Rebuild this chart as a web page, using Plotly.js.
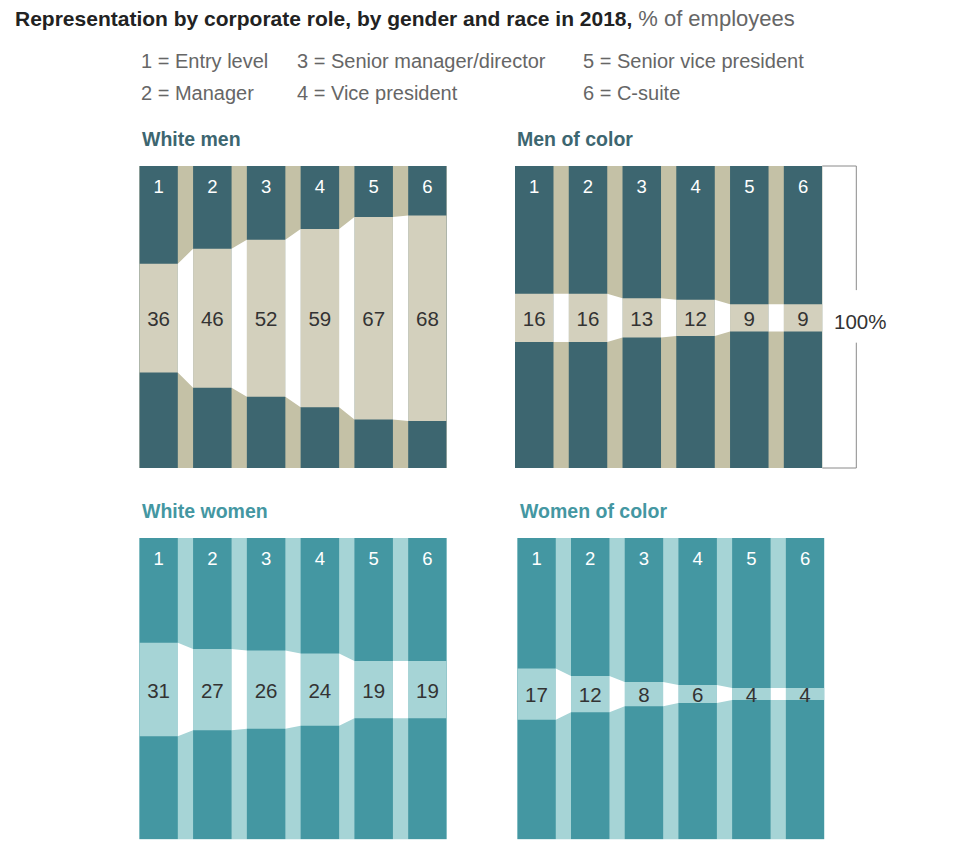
<!DOCTYPE html>
<html>
<head>
<meta charset="utf-8">
<script src="https://cdn.plot.ly/plotly-3.0.1.min.js"></script>
<style>html,body{margin:0;padding:0;background:#fff;}#chart{width:960px;height:855px;}</style>
</head>
<body>
<div id="chart"></div>
<script>
// ---- data ----
const roleLabels = ['1', '2', '3', '4', '5', '6'];
const legendItems = ['1 = Entry level', '2 = Manager', '3 = Senior manager/director', '4 = Vice president', '5 = Senior vice president', '6 = C-suite'];
const panelTitles = ['White men', 'Men of color', 'White women', 'Women of color'];
const whiteMen = [36, 46, 52, 59, 67, 68];
const menOfColor = [16, 16, 13, 12, 9, 9];
const whiteWomen = [31, 27, 26, 24, 19, 19];
const womenOfColor = [17, 12, 8, 6, 4, 4];
const bandMid = [49.6, 49.7, 49.7, 48.2]; // vertical centre of each panel's band, % of panel height

// ---- styles ----
const FONT = 'Liberation Sans, Arial, Helvetica, sans-serif';
const BARW = 0.716;
const menStyle = {dark: '#3D6670', band: '#D3D0BD', gap: '#C4C1A6', title: '#3D6670'};
const womenStyle = {dark: '#4497A2', band: '#A6D4D6', gap: '#A6D4D6', title: '#4497A2'};
const series = [whiteMen, menOfColor, whiteWomen, womenOfColor];
const styles = [menStyle, menStyle, womenStyle, womenStyle];

const W = 960, H = 855;
const px = v => v / W;
const py = v => 1 - v / H;
const panelBoxes = [
  {x0: 139.3, x1: 446.7, y0: 166, y1: 468},
  {x0: 515.0, x1: 822.3, y0: 166, y1: 468},
  {x0: 139.3, x1: 446.7, y0: 538, y1: 839.3},
  {x0: 517.3, x1: 824.3, y0: 538, y1: 839.3}
];

const traces = [];
const layout = {
  width: W, height: H,
  margin: {l: 0, r: 0, t: 0, b: 0},
  paper_bgcolor: '#fff', plot_bgcolor: 'rgba(0,0,0,0)',
  showlegend: false, barmode: 'overlay',
  font: {family: FONT},
  shapes: [], annotations: []
};

const idx = roleLabels.map((_, i) => i);

series.forEach((vals, p) => {
  const n = p === 0 ? '' : String(p + 1);
  const xa = 'x' + n, ya = 'y' + n;
  const st = styles[p], mid = bandMid[p], box = panelBoxes[p];
  layout['xaxis' + n] = {domain: [px(box.x0), px(box.x1)], range: [-BARW / 2, roleLabels.length - 1 + BARW / 2],
    visible: false, fixedrange: true, anchor: ya};
  layout['yaxis' + n] = {domain: [py(box.y1), py(box.y0)], range: [0, 100], visible: false, fixedrange: true, anchor: xa};

  // panel background (gap colour)
  layout.shapes.push({type: 'rect', xref: xa + ' domain', yref: ya + ' domain', x0: 0, x1: 1, y0: 0, y1: 1,
    fillcolor: st.gap, line: {width: 0}, layer: 'below'});

  // full-height dark columns
  traces.push({type: 'bar', xaxis: xa, yaxis: ya, x: idx, y: idx.map(() => 100), base: 0, width: BARW,
    marker: {color: st.dark, line: {width: 0}}, hoverinfo: 'skip'});
  // share band
  traces.push({type: 'bar', xaxis: xa, yaxis: ya, x: idx, y: vals, base: vals.map(v => mid - v / 2), width: BARW,
    marker: {color: st.band, line: {width: 0}}, hoverinfo: 'skip'});

  // white connectors between bands
  const cx = [], cy = [];
  for (let i = 0; i < vals.length - 1; i++) {
    cx.push(i + BARW / 2, i + 1 - BARW / 2, i + 1 - BARW / 2, i + BARW / 2, null);
    cy.push(mid + vals[i] / 2, mid + vals[i + 1] / 2, mid - vals[i + 1] / 2, mid - vals[i] / 2, null);
  }
  traces.push({type: 'scatter', xaxis: xa, yaxis: ya, x: cx, y: cy, mode: 'lines', fill: 'toself',
    fillcolor: '#ffffff', line: {width: 0, color: '#ffffff'}, hoverinfo: 'skip', connectgaps: false});

  // role numbers
  traces.push({type: 'scatter', xaxis: xa, yaxis: ya, x: idx, y: idx.map(() => 92.6), mode: 'text',
    text: roleLabels, textposition: 'middle center', textfont: {family: FONT, size: 18.5, color: '#ffffff'}, hoverinfo: 'skip'});
  // values
  traces.push({type: 'scatter', xaxis: xa, yaxis: ya, x: idx, y: vals.map(() => mid - 1.0), mode: 'text',
    text: vals.map(String), textposition: 'middle center', textfont: {family: FONT, size: 20.5, color: '#333333'}, hoverinfo: 'skip'});

  // panel title
  layout.annotations.push({xref: 'paper', yref: 'paper', x: px(box.x0 + 0.2), y: py(box.y0 - 27), xanchor: 'left', yanchor: 'middle',
    text: '<b>' + panelTitles[p] + '</b>', showarrow: false, font: {family: FONT, size: 19.5, color: st.title}});
});

// 100% bracket on "Men of color"
const bx = 1 + 34 / 307.3;
const brLine = {color: '#8a8a8a', width: 1};
layout.shapes.push(
  {type: 'line', xref: 'x2 domain', yref: 'y2 domain', x0: 1, x1: bx, y0: 1, y1: 1, line: brLine},
  {type: 'line', xref: 'x2 domain', yref: 'y2 domain', x0: bx, x1: bx, y0: 1, y1: 0.589, line: brLine},
  {type: 'line', xref: 'x2 domain', yref: 'y2 domain', x0: bx, x1: bx, y0: 0.415, y1: 0, line: brLine},
  {type: 'line', xref: 'x2 domain', yref: 'y2 domain', x0: 1, x1: bx, y0: 0, y1: 0, line: brLine}
);
layout.annotations.push({xref: 'paper', yref: 'paper', x: px(859.5), y: py(321), xanchor: 'center', yanchor: 'middle',
  text: '100%', showarrow: false, font: {family: FONT, size: 20.5, color: '#333333'}});

// title
layout.annotations.push({xref: 'paper', yref: 'paper', x: px(13), y: py(18.5), xanchor: 'left', yanchor: 'middle', showarrow: false,
  text: '<b>Representation by corporate role, by gender and race in 2018,</b> <span style="color:#666666;font-size:22px">% of employees</span>',
  font: {family: FONT, size: 21, color: '#222222'}});

// role legend (3 columns x 2 rows)
const legX = [140, 296, 582], legY = [61, 93];
legendItems.forEach((t, i) => {
  layout.annotations.push({xref: 'paper', yref: 'paper', x: px(legX[Math.floor(i / 2)] - 1), y: py(legY[i % 2]),
    xanchor: 'left', yanchor: 'middle', showarrow: false, text: t, font: {family: FONT, size: 20, color: '#666666'}});
});

Plotly.newPlot('chart', traces, layout, {staticPlot: true, displayModeBar: false});
</script>
</body>
</html>
